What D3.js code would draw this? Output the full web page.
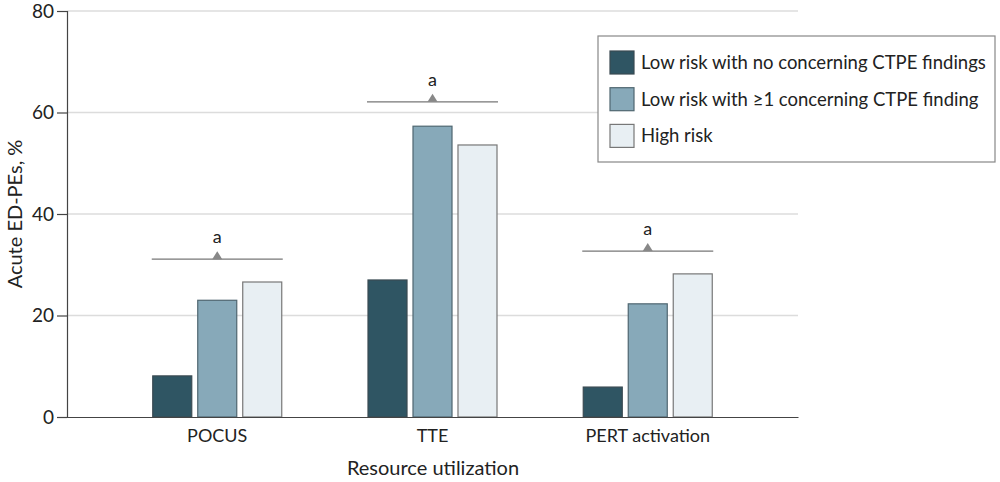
<!DOCTYPE html>
<html>
<head>
<meta charset="utf-8">
<script src="https://cdn.jsdelivr.net/npm/d3@7/dist/d3.min.js"></script>
<style>
  body { margin: 0; background: #fff; }
  text { font-family: Lato, "Open Sans", sans-serif; fill: #222; }
</style>
</head>
<body>
<div id="chart"></div>
<script>
// data
const categories = ["POCUS", "TTE", "PERT activation"];
const groups = ["Low risk with no concerning CTPE findings", "Low risk with \u22651 concerning CTPE finding", "High risk"];
const lowNone = [8.1, 27.0, 5.9];
const lowFinding = [23.0, 57.3, 22.3];
const highRisk = [26.6, 53.6, 28.2];
const sigLevel = [31.1, 62.1, 32.7];
const yTicks = [0, 20, 40, 60, 80];

const colors = ["#2f5563", "#87a9b9", "#e8eff3"];
const strokes = ["#3a4a52", "#4f6670", "#777"];

const width = 1000, height = 482;
const margin = {left: 67, right: 202, top: 11, bottom: 65};
const innerW = width - margin.left - margin.right;
const innerH = height - margin.top - margin.bottom;

const svg = d3.select("#chart").append("svg")
  .attr("width", width).attr("height", height);
const g = svg.append("g").attr("transform", "translate(" + margin.left + "," + margin.top + ")");

const x = d3.scaleBand().domain(categories).range([0, innerW]).paddingOuter(0.198).paddingInner(0);
const xs = d3.scaleBand().domain(d3.range(3)).range([0, 129]).paddingInner(0.133);
const y = d3.scaleLinear().domain([0, 80]).range([innerH, 0]);

// gridlines
g.selectAll(".grid").data(yTicks.filter(d => d > 0)).enter().append("line")
  .attr("x1", 0).attr("x2", innerW)
  .attr("y1", d => y(d)).attr("y2", d => y(d))
  .attr("stroke", "#dcdcdc").attr("stroke-width", 1.5);

// bars
const rows = categories.map((c, i) => ({cat: c, vals: [lowNone[i], lowFinding[i], highRisk[i]], sig: sigLevel[i]}));
const cg = g.selectAll(".cat").data(rows).enter().append("g")
  .attr("transform", d => "translate(" + (x(d.cat) + x.bandwidth() / 2 - 64.5) + ",0)");

cg.selectAll("rect").data(d => d.vals).enter().append("rect")
  .attr("x", (d, i) => xs(i))
  .attr("width", xs.bandwidth())
  .attr("y", d => y(d))
  .attr("height", d => innerH - y(d))
  .attr("fill", (d, i) => colors[i])
  .attr("stroke", (d, i) => strokes[i])
  .attr("stroke-width", 1.2);

// significance brackets
cg.append("line")
  .attr("x1", -1).attr("x2", 130)
  .attr("y1", d => y(d.sig)).attr("y2", d => y(d.sig))
  .attr("stroke", "#777").attr("stroke-width", 1.2);
cg.append("path")
  .attr("d", d => "M" + (64.5 - 5) + "," + y(d.sig) + "L64.5," + (y(d.sig) - 8) + "L" + (64.5 + 5) + "," + y(d.sig) + "Z")
  .attr("fill", "#888");
cg.append("text")
  .attr("x", 64.5).attr("y", d => y(d.sig) - 16)
  .attr("text-anchor", "middle")
  .style("font-size", "18px")
  .text("a");

// y axis
const yAxis = g.append("g")
  .call(d3.axisLeft(y).tickValues(yTicks).tickSize(10).tickPadding(3));
yAxis.select(".domain").attr("stroke", "#444").attr("stroke-width", 1.2);
yAxis.selectAll(".tick line").attr("stroke", "#444").attr("stroke-width", 1.2);
yAxis.selectAll(".tick text").style("font-size", "19px").style("font-family", "Lato, sans-serif").attr("fill", "#222");

// x axis
const xAxis = g.append("g").attr("transform", "translate(0," + innerH + ")")
  .call(d3.axisBottom(x).tickSize(0).tickPadding(12));
xAxis.select(".domain").attr("stroke", "#444").attr("stroke-width", 1.2);
xAxis.selectAll(".tick text").style("font-size", "18px").style("font-family", "Lato, sans-serif").attr("fill", "#222");

// axis titles
svg.append("text")
  .attr("transform", "translate(22," + (margin.top + innerH / 2) + ") rotate(-90)")
  .attr("text-anchor", "middle")
  .style("font-size", "20px")
  .text("Acute ED-PEs, %");
svg.append("text")
  .attr("x", 433).attr("y", 475)
  .attr("text-anchor", "middle")
  .style("font-size", "20px")
  .text("Resource utilization");

// legend
const lg = svg.append("g").attr("transform", "translate(598,36)");
lg.append("rect").attr("width", 397).attr("height", 126)
  .attr("fill", "#fff").attr("stroke", "#888").attr("stroke-width", 1.2);
const li = lg.selectAll(".li").data(groups).enter().append("g")
  .attr("transform", (d, i) => "translate(12," + (15 + i * 36.7) + ")");
li.append("rect").attr("width", 24).attr("height", 23)
  .attr("fill", (d, i) => colors[i]).attr("stroke", (d, i) => strokes[i]).attr("stroke-width", 1.2);
li.append("text").attr("x", 31).attr("y", 18)
  .style("font-size", "18.5px")
  .text(d => d);
</script>
</body>
</html>
